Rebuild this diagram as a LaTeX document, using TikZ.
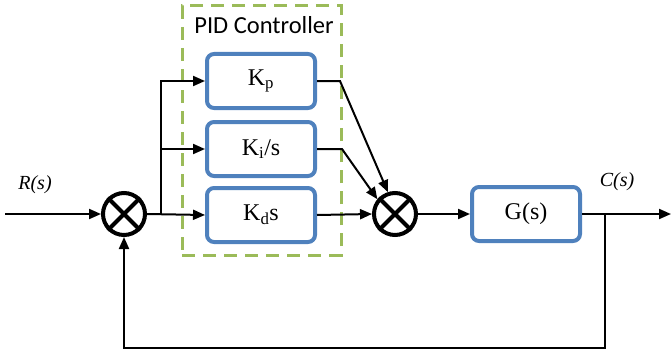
\documentclass[tikz,border=0pt]{standalone}
\usepackage{fontspec}
\setmainfont{Liberation Serif}
\newfontfamily\calfont{Carlito}
\usetikzlibrary{arrows.meta}
\definecolor{boxblue}{RGB}{79,129,189}
\definecolor{pidgreen}{RGB}{155,187,89}
\tikzset{
  blk/.style={draw=boxblue, line width=4pt, rounded corners=7pt, fill=white,
    minimum width=108pt, minimum height=54pt, inner sep=0pt,
    font=\fontsize{24}{27}\selectfont},
  sumj/.style={draw=black, line width=4pt, circle, minimum size=42pt, inner sep=0pt, fill=white},
  conn/.style={line width=2pt, draw=black},
  arr/.style={conn, -{Triangle[length=12pt,width=10pt]}},
  pidbox/.style={draw=pidgreen, line width=3pt, dash pattern=on 13pt off 8pt, inner sep=0pt},
  lbl/.style={font=\fontsize{20}{24}\selectfont\itshape, inner sep=0pt},
}
\begin{document}
\begin{tikzpicture}[x=1pt,y=-1pt]
\useasboundingbox (0,0) rectangle (671,353);
\node[pidbox, minimum width=159pt, minimum height=249pt] (pid) at (261.5,130.5) {};
\node[font=\calfont\fontsize{24.5}{27}\selectfont, inner sep=0pt] (pidlbl) at (264,25) {PID Controller};

\node[blk] (kp) at (261,81) {K\textsubscript{p}};
\node[blk] (ki) at (261,149) {K\textsubscript{i}/s};
\node[blk] (kd) at (261,215) {K\textsubscript{d}s};
\node[blk] (g) at (526,214) {G(s)};

\node[sumj] (s1) at (124,214) {};
\node[sumj] (s2) at (395,214) {};
\foreach \s in {s1,s2}{
  \draw[line width=4pt] (\s.north west) -- (\s.south east);
  \draw[line width=4pt] (\s.north east) -- (\s.south west);
}

\node[lbl] (rlbl) at (35,185) {R(s)};
\node[lbl] (clbl) at (617,182) {C(s)};

\coordinate (in) at (5,214);
\coordinate (br) at (161,214);
\coordinate (kpo) at (340,81);
\coordinate (kio) at (342,149);
\coordinate (out) at (671,214);
\coordinate (fb) at (605,214);
\coordinate (fbd) at (605,348);

\draw[arr] (in) -- (s1.west);
\draw[arr] (s1.east) -- (kd.west);
\draw[arr] (br) |- (kp.west);
\draw[arr] (br |- ki.west) -- (ki.west);
\draw[arr] (kp.east) -- (kpo) -- (s2.108);
\draw[arr] (ki.east) -- (kio) -- (s2.140);
\draw[arr] (kd.east) -- (s2.west);
\draw[arr] (s2.east) -- (g.west);
\draw[arr] (g.east) -- (out);
\draw[arr] (fb) -- (fbd) -| (s1.south);
\end{tikzpicture}
\end{document}
